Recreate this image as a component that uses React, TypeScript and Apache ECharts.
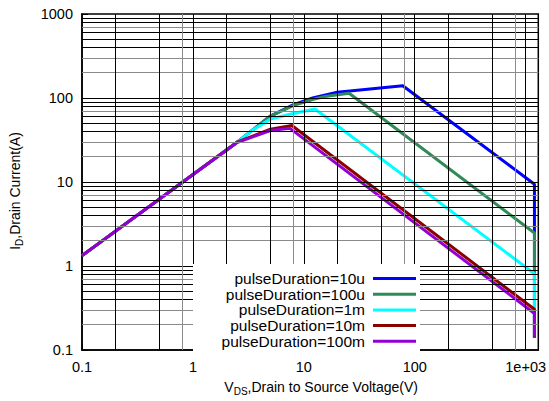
import React, { useEffect, useRef } from "react";
import * as echarts from "echarts";

// ---- Data ----
const seriesNames = [
  "pulseDuration=10u",
  "pulseDuration=100u",
  "pulseDuration=1m",
  "pulseDuration=10m",
  "pulseDuration=100m",
];
const seriesColors = ["#0000ff", "#2e8b57", "#00ffff", "#8b0000", "#9400d3"];

const vds10u = [0.1, 2.5, 5, 8, 12, 20, 78, 1200, 1200];
const id10u = [1.33, 29.8, 61, 83, 100, 117, 140, 9.4, 0.14];

const vds100u = [0.1, 2.5, 5, 8, 12, 15.5, 25.6, 1200, 1200];
const id100u = [1.33, 29.8, 61, 81, 96, 104, 114, 2.47, 0.14];

const vds1m = [0.1, 2.5, 3.5, 5, 7.5, 12.6, 1200, 1200];
const id1m = [1.33, 29.8, 42, 56, 64, 74, 0.81, 0.14];

const vds10m = [0.1, 2.5, 5, 7.8, 1200, 1200];
const id10m = [1.33, 29.8, 42.5, 47, 0.305, 0.14];

const vds100m = [0.1, 2.5, 5, 7.5, 1200, 1200];
const id100m = [1.33, 29.5, 41, 43.5, 0.272, 0.144];

const seriesVds = [vds10u, vds100u, vds1m, vds10m, vds100m];
const seriesId = [id10u, id100u, id1m, id10m, id100m];

// axis ranges and ticks
const xMin = 0.1;
const xMax = 1300;
const yMin = 0.1;
const yMax = 1000;
const xTickLabels: Record<number, string> = { [-1]: "0.1", 0: "1", 1: "10", 2: "100", 3: "1e+03" };
const yTickLabels: Record<number, string> = { [-1]: "0.1", 0: "1", 1: "10", 2: "100", 3: "1000" };

// grid-line multipliers per decade
const hGridMult = [1, 2, 3, 4, 5, 6, 7, 8, 9];
const hGridGray = [false, true, true, false, false, false, true, false, false];
const vGridMult = [1, 2, 5, 8];
const vGridGray = [false, false, false, true];
const decadesY = [0.1, 1, 10, 100, 1000];
const decadesX = [0.1, 1, 10, 100, 1000];

const FONT = '"Liberation Sans", Arial, Helvetica, sans-serif';

function fmtLog(v: number, table: Record<number, string>) {
  const l = Math.log10(v);
  const r = Math.round(l);
  if (Math.abs(l - r) > 1e-6) return "";
  return table[r] ?? "";
}

export default function App() {
  const ref = useRef<HTMLDivElement>(null);

  useEffect(() => {
    if (!ref.current) return;
    const chart = echarts.init(ref.current, undefined, { renderer: "svg" });

    const gridLines: any[] = [];
    decadesY.forEach((d) => {
      hGridMult.forEach((m, i) => {
        const v = d * m;
        if (v < yMin - 1e-9 || v > yMax + 1e-9) return;
        if (m === 1 && (v === yMin || v === yMax)) return;
        gridLines.push({ yAxis: v, lineStyle: { color: hGridGray[i] ? "#8a8a8a" : "#000", width: 1, type: "solid" } });
      });
    });
    decadesX.forEach((d) => {
      vGridMult.forEach((m, i) => {
        const v = d * m;
        if (v <= xMin + 1e-9 || v >= xMax) return;
        gridLines.push({ xAxis: v, lineStyle: { color: vGridGray[i] ? "#8a8a8a" : "#000", width: 1, type: "solid" } });
      });
    });

    const curveSeries = seriesNames.map((name, i) => ({
      name,
      type: "line",
      data: seriesVds[i].map((x, j) => [x, seriesId[i][j]]),
      showSymbol: false,
      symbol: "none",
      lineStyle: { color: seriesColors[i], width: 3 },
      itemStyle: { color: seriesColors[i] },
      z: 3,
    }));

    const legendX = 365;
    const legendY0 = 278.5;
    const legendDy = 15.7;
    const legendEls: any[] = [
      {
        type: "rect",
        shape: { x: 193, y: 264, width: 227, height: 87 },
        style: { fill: "#fff" },
        z: 50,
      },
    ];
    seriesNames.forEach((name, i) => {
      legendEls.push({
        type: "text",
        x: legendX,
        y: legendY0 + i * legendDy,
        z: 51,
        style: {
          text: name,
          fill: "#000",
          fontSize: 15.5,
          fontFamily: FONT,
          align: "right",
          textAlign: "right",
          verticalAlign: "middle",
          textVerticalAlign: "middle",
        },
      });
      legendEls.push({
        type: "line",
        z: 51,
        shape: { x1: 373, y1: legendY0 + i * legendDy, x2: 416, y2: legendY0 + i * legendDy },
        style: { stroke: seriesColors[i], lineWidth: 3 },
      });
    });

    const option: any = {
      animation: false,
      backgroundColor: "#fff",
      textStyle: { fontFamily: FONT, color: "#000" },
      grid: {
        left: 81,
        right: 10,
        top: 14,
        bottom: 50,
        show: true,
        borderColor: "#000",
        borderWidth: 1.5,
        backgroundColor: "transparent",
        containLabel: false,
      },
      xAxis: {
        type: "log",
        logBase: 10,
        min: xMin,
        max: xMax,
        axisLine: { show: true, lineStyle: { color: "#000", width: 1.5 } },
        axisTick: { show: true, inside: true, length: 6, lineStyle: { color: "#000" } },
        axisLabel: {
          color: "#000",
          fontSize: 14.5,
          fontFamily: FONT,
          margin: 9,
          formatter: (v: number) => fmtLog(v, xTickLabels),
        },
        splitLine: { show: false },
        name: "{m|V}{s|DS}{m|,Drain to Source Voltage(V)}",
        nameLocation: "middle",
        nameGap: 28,
        nameTextStyle: {
          padding: [0, 0, 0, 22],
          rich: {
            m: { fontSize: 14, fontFamily: FONT, color: "#000", lineHeight: 18, verticalAlign: "middle" },
            s: { fontSize: 10, fontFamily: FONT, color: "#000", lineHeight: 10, verticalAlign: "bottom" },
          },
        },
      },
      yAxis: {
        type: "log",
        logBase: 10,
        min: yMin,
        max: yMax,
        axisLine: { show: true, lineStyle: { color: "#000", width: 1.5 } },
        axisTick: { show: true, inside: true, length: 6, lineStyle: { color: "#000" } },
        axisLabel: {
          color: "#000",
          fontSize: 14.5,
          fontFamily: FONT,
          margin: 9,
          formatter: (v: number) => fmtLog(v, yTickLabels),
        },
        splitLine: { show: false },
        name: "{m|I}{s|D}{m|,Drain Current(A)}",
        nameLocation: "middle",
        nameRotate: 90,
        nameGap: 58,
        nameTextStyle: {
          padding: [0, 18, 0, 0],
          rich: {
            m: { fontSize: 14, fontFamily: FONT, color: "#000", lineHeight: 18, verticalAlign: "middle" },
            s: { fontSize: 10, fontFamily: FONT, color: "#000", lineHeight: 10, verticalAlign: "bottom" },
          },
        },
      },
      series: [
        {
          name: "__grid",
          type: "line",
          data: [[1, 1]],
          showSymbol: false,
          symbol: "none",
          lineStyle: { opacity: 0 },
          silent: true,
          z: 1,
          markLine: {
            silent: true,
            symbol: ["none", "none"],
            label: { show: false },
            animation: false,
            data: gridLines,
          },
        },
        ...curveSeries,
      ],
      graphic: legendEls,
    };

    chart.setOption(option);
    return () => chart.dispose();
  }, []);

  return (
    <div
      ref={ref}
      style={{ position: "absolute", left: 0, top: 0, width: 549, height: 401, background: "#fff" }}
    />
  );
}
